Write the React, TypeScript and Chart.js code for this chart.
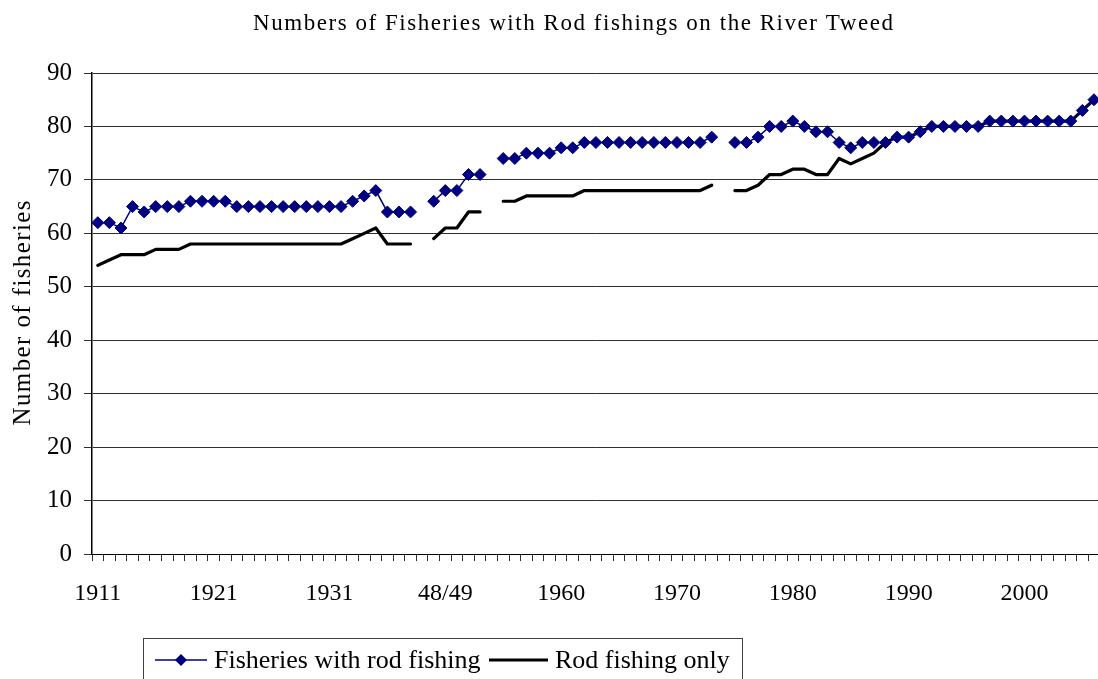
import React, { useEffect, useRef } from 'react';
import { Chart, registerables } from 'chart.js';

Chart.register(...registerables);

// ---- data ----
const CATEGORIES: string[] = [
  '1911', '', '', '', '', '', '', '', '', '',
  '1921', '', '', '', '', '', '', '', '', '',
  '1931', '', '', '', '', '', '', '', '', '',
  '48/49', '', '', '', '', '', '', '', '', '',
  '1960', '', '', '', '', '', '', '', '', '',
  '1970', '', '', '', '', '', '', '', '', '',
  '1980', '', '', '', '', '', '', '', '', '',
  '1990', '', '', '', '', '', '', '', '', '',
  '2000', '', '', '', '', '', '',
];

const WITH_ROD: (number | null)[] = [
  62, 62, 61, 65, 64, 65, 65, 65, 66, 66,
  66, 66, 65, 65, 65, 65, 65, 65, 65, 65,
  65, 65, 66, 67, 68, 64, 64, 64, null, 66,
  68, 68, 71, 71, null, 74, 74, 75, 75, 75,
  76, 76, 77, 77, 77, 77, 77, 77, 77, 77,
  77, 77, 77, 78, null, 77, 77, 78, 80, 80,
  81, 80, 79, 79, 77, 76, 77, 77, 77, 78,
  78, 79, 80, 80, 80, 80, 80, 81, 81, 81,
  81, 81, 81, 81, 81, 83, 85,
];

const ROD_ONLY: (number | null)[] = [
  54, 55, 56, 56, 56, 57, 57, 57, 58, 58,
  58, 58, 58, 58, 58, 58, 58, 58, 58, 58,
  58, 58, 59, 60, 61, 58, 58, 58, null, 59,
  61, 61, 64, 64, null, 66, 66, 67, 67, 67,
  67, 67, 68, 68, 68, 68, 68, 68, 68, 68,
  68, 68, 68, 69, null, 68, 68, 69, 71, 71,
  72, 72, 71, 71, 74, 73, 74, 75, 77, 78,
  78, 79, 80, 80, 80, 80, 80, 81, 81, 81,
  81, 81, 81, 81, 81, 83, 85,
];

const Y_MIN = 0;
const Y_MAX = 90;
const Y_STEP = 10;

const TITLE = 'Numbers of Fisheries with Rod fishings on the River Tweed';
const Y_TITLE = 'Number of fisheries';
const SERIES_NAMES = ['Fisheries with rod fishing', 'Rod fishing only'];

const NAVY = '#000080';
const GRID = '#303030';
const FONT = '"Liberation Serif", "Times New Roman", serif';

function fitText(ctx: CanvasRenderingContext2D, text: string, target: number) {
  (ctx as any).letterSpacing = '0px';
  const w0 = ctx.measureText(text).width;
  const sp = (target - w0) / Math.max(1, text.length - 1);
  (ctx as any).letterSpacing = `${sp}px`;
}

const textPlugin = {
  id: 'excelTexts',
  afterDraw(chart: any) {
    const ctx: CanvasRenderingContext2D = chart.ctx;
    ctx.save();
    ctx.fillStyle = '#000';
    ctx.textAlign = 'left';
    ctx.textBaseline = 'alphabetic';

    // chart title
    ctx.font = `23px ${FONT}`;
    fitText(ctx, TITLE, 640);
    ctx.fillText(TITLE, 573 - 320, 30);

    // y axis title
    ctx.save();
    ctx.translate(30, 313);
    ctx.rotate(-Math.PI / 2);
    ctx.font = `25px ${FONT}`;
    fitText(ctx, Y_TITLE, 225);
    ctx.fillText(Y_TITLE, -112.5, 0);
    ctx.restore();

    // legend
    (ctx as any).letterSpacing = '0px';
    ctx.strokeStyle = '#404040';
    ctx.lineWidth = 1;
    ctx.strokeRect(143.5, 638.5, 599, 60);

    const ly = 660;
    ctx.strokeStyle = NAVY;
    ctx.lineWidth = 1.5;
    ctx.beginPath();
    ctx.moveTo(155, ly);
    ctx.lineTo(207, ly);
    ctx.stroke();
    ctx.fillStyle = NAVY;
    ctx.beginPath();
    ctx.moveTo(181, ly - 6);
    ctx.lineTo(187, ly);
    ctx.lineTo(181, ly + 6);
    ctx.lineTo(175, ly);
    ctx.closePath();
    ctx.fill();

    ctx.fillStyle = '#000';
    ctx.font = `26px ${FONT}`;
    ctx.fillText(SERIES_NAMES[0], 214, 668);

    ctx.strokeStyle = '#000';
    ctx.lineWidth = 3;
    ctx.beginPath();
    ctx.moveTo(489, ly);
    ctx.lineTo(548, ly);
    ctx.stroke();
    ctx.fillText(SERIES_NAMES[1], 555, 668);

    ctx.restore();
  },
};

export default function App() {
  const ref = useRef<HTMLCanvasElement | null>(null);

  useEffect(() => {
    document.body.style.margin = '0';
    document.body.style.overflow = 'hidden';
    const canvas = ref.current;
    if (!canvas) return;
    const chart = new Chart(canvas, {
      type: 'line',
      data: {
        labels: CATEGORIES,
        datasets: [
          {
            label: SERIES_NAMES[0],
            data: WITH_ROD,
            borderColor: NAVY,
            backgroundColor: NAVY,
            borderWidth: 1.5,
            pointStyle: 'rectRot',
            pointRadius: 6,
            pointBorderWidth: 1,
            pointBackgroundColor: NAVY,
            pointBorderColor: NAVY,
            tension: 0,
            spanGaps: false,
          },
          {
            label: SERIES_NAMES[1],
            data: ROD_ONLY,
            borderColor: '#000',
            backgroundColor: '#000',
            borderWidth: 3.2,
            pointRadius: 0,
            borderJoinStyle: 'round',
            borderCapStyle: 'round',
            tension: 0,
            spanGaps: false,
          },
        ],
      },
      options: {
        animation: false,
        responsive: false,
        devicePixelRatio: 1,
        layout: { padding: { top: 73, left: 0, right: 6, bottom: 0 } },
        plugins: {
          legend: { display: false },
          title: { display: false },
          tooltip: { enabled: false },
        },
        scales: {
          x: {
            type: 'category',
            offset: true,
            grid: {
              display: true,
              drawOnChartArea: false,
              drawTicks: true,
              tickLength: 7,
              offset: true,
              color: GRID,
              lineWidth: 1,
            },
            border: { display: true, color: '#000', width: 1 },
            ticks: {
              autoSkip: false,
              maxRotation: 0,
              minRotation: 0,
              padding: 18,
              color: '#000',
              font: { family: FONT, size: 24 },
            },
            afterFit: (s: any) => {
              s.height = 125;
            },
          },
          y: {
            min: Y_MIN,
            max: Y_MAX,
            ticks: {
              stepSize: Y_STEP,
              padding: 12,
              color: '#000',
              font: { family: FONT, size: 25 },
            },
            grid: { color: GRID, lineWidth: 1, tickLength: 8, drawTicks: true },
            border: { display: true, color: '#000', width: 1.5 },
            afterFit: (s: any) => {
              s.width = 92;
            },
          },
        },
      } as any,
      plugins: [textPlugin],
    });
    return () => chart.destroy();
  }, []);

  return (
    <div
      style={{
        position: 'fixed',
        left: 0,
        top: 0,
        width: 1098,
        height: 679,
        overflow: 'hidden',
        background: '#fff',
      }}
    >
      <canvas ref={ref} width={1112} height={679} style={{ display: 'block', width: 1112, height: 679 }} />
    </div>
  );
}
